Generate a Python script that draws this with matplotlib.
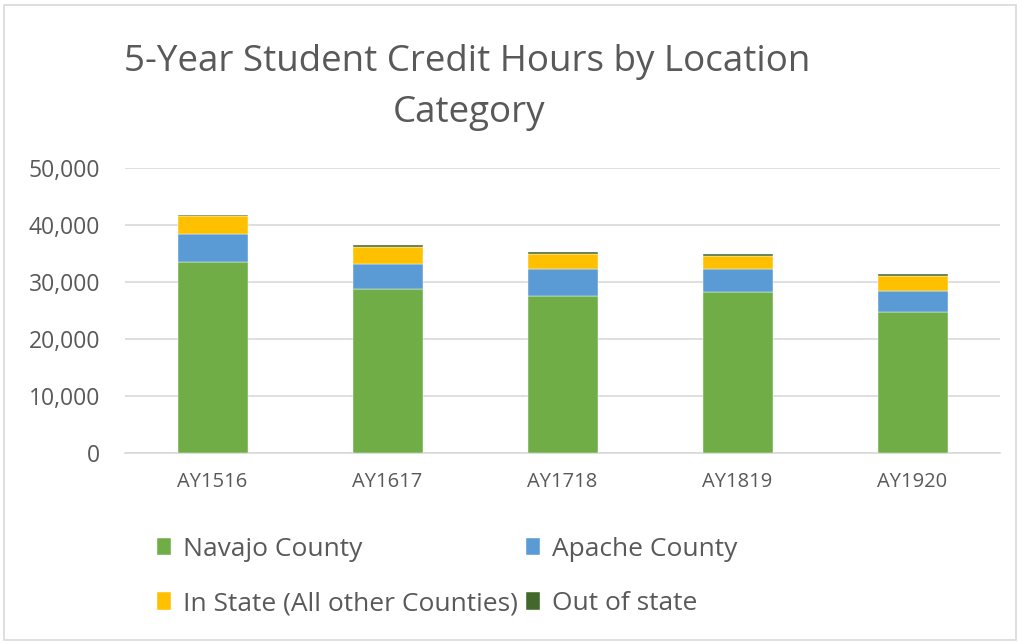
import numpy as np
import matplotlib
matplotlib.use("Agg")
import matplotlib.pyplot as plt
from matplotlib.patches import Rectangle
from matplotlib.ticker import FuncFormatter

years = ["AY1516", "AY1617", "AY1718", "AY1819", "AY1920"]
navajo = [33500, 28800, 27600, 28200, 24700]
apache = [5000, 4400, 4700, 4050, 3750]
in_state = [3000, 3000, 2600, 2350, 2650]
out_state = [250, 300, 300, 300, 350]

series = [
    ("Navajo County", navajo, "#70AD47"),
    ("Apache County", apache, "#5B9BD5"),
    ("In State (All other Counties)", in_state, "#FFC000"),
    ("Out of state", out_state, "#43682B"),
]

plt.rcParams["font.family"] = ["Open Sans", "DejaVu Sans"]
text_col = "#595959"

fig = plt.figure(figsize=(10.23, 6.43), dpi=100)
ax = fig.add_axes([125 / 1023, 1 - 453 / 643, 875 / 1023, 285 / 643])

# chart border
fig.patches.append(Rectangle((4 / 1023, 3 / 643), 1012 / 1023, 635 / 643,
                             transform=fig.transFigure, fill=False,
                             edgecolor="#d9d9d9", linewidth=1.2))

x = np.arange(len(years))
bottom = np.zeros(len(years))
handles = {}
for name, vals, col in series:
    b = ax.bar(x, vals, width=0.4, bottom=bottom, color=col, label=name,
               edgecolor="white", linewidth=0.3, zorder=3)
    handles[name] = b
    bottom += np.array(vals)

ax.set_xlim(-0.5, len(years) - 0.5)
ax.set_ylim(0, 50000)
ax.set_yticks(np.arange(0, 50001, 10000))
ax.yaxis.set_major_formatter(FuncFormatter(lambda v, p: f"{int(v):,}"))
ax.set_xticks(x)
ax.set_xticklabels(years)
ax.grid(axis="y", color="#d9d9d9", linewidth=1.2, zorder=0)
for s in ["top", "right", "left"]:
    ax.spines[s].set_visible(False)
ax.spines["bottom"].set_color("#d9d9d9")
ax.spines["bottom"].set_linewidth(1.2)
ax.tick_params(length=0, labelcolor=text_col)
ax.tick_params(axis="y", pad=18, labelsize=16.5)
ax.tick_params(axis="x", pad=14, labelsize=14.5)

fig.text(467 / 1023, 1 - 62 / 643, "5-Year Student Credit Hours by Location",
         ha="center", va="center", fontsize=26.5, color=text_col)
fig.text(469 / 1023, 1 - 113 / 643, "Category",
         ha="center", va="center", fontsize=26.5, color=text_col)

order = ["Navajo County", "In State (All other Counties)", "Apache County", "Out of state"]
fig.legend([handles[n] for n in order], order, ncol=2, loc="upper left",
           bbox_to_anchor=(133 / 1023, 1 - 513 / 643), frameon=False,
           fontsize=19, labelcolor=text_col, handlelength=0.55, handleheight=0.65,
           handletextpad=0.45, columnspacing=0.3, labelspacing=1.12)

fig.savefig("out.png", dpi=100)
